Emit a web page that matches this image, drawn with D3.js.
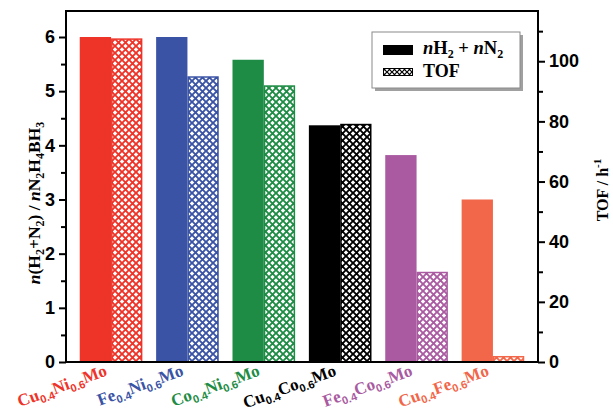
<!DOCTYPE html>
<html>
<head>
<meta charset="utf-8">
<script src="https://cdn.jsdelivr.net/npm/d3@7"></script>
<style>
  body { margin: 0; background: #fff; }
  .tick text { font-family: "Liberation Sans", Arial, sans-serif; font-weight: bold; font-size: 18px; }
  .title { font-family: "Liberation Serif", "Times New Roman", serif; font-weight: bold; }
</style>
</head>
<body>
<script>
// catalysts: [metal A, sub A, metal B, sub B, tail]
var catalysts = [
	["Cu", "0.4", "Ni", "0.6", "Mo"],
	["Fe", "0.4", "Ni", "0.6", "Mo"],
	["Co", "0.4", "Ni", "0.6", "Mo"],
	["Cu", "0.4", "Co", "0.6", "Mo"],
	["Fe", "0.4", "Co", "0.6", "Mo"],
	["Cu", "0.4", "Fe", "0.6", "Mo"]
];
var gasRatio = [6.0, 6.0, 5.58, 4.37, 3.82, 3.0];   // n(H2+N2)/nN2H4BH3
var tof = [107.6, 95, 92, 79.2, 30, 2];             // TOF / h^-1
var barColors = ["#ee3429", "#3a53a4", "#1e8c45", "#000000", "#a95aa1", "#f26649"];
var leftTicks = [0, 1, 2, 3, 4, 5, 6];
var rightTicks = [0, 20, 40, 60, 80, 100];

var margin = {top: 11, right: 75, bottom: 52, left: 66},
	fullWidth = 613, fullHeight = 414,
	width = fullWidth - margin.left - margin.right,
	height = fullHeight - margin.top - margin.bottom;

var svg = d3.select("body").append("svg")
	.attr("width", fullWidth)
	.attr("height", fullHeight);

var defs = svg.append("defs");
function hatch(id, color, size, sw) {
	var p = defs.append("pattern")
		.attr("id", id)
		.attr("patternUnits", "userSpaceOnUse")
		.attr("width", size).attr("height", size);
	p.append("rect").attr("width", size).attr("height", size).attr("fill", "#fff");
	p.append("path")
		.attr("d", "M-1,-1L" + (size + 1) + "," + (size + 1) + "M" + (size + 1) + ",-1L-1," + (size + 1))
		.attr("stroke", color).attr("stroke-width", sw).attr("fill", "none");
}
barColors.forEach(function(c, i) { hatch("hatch" + i, c, 7, 1.9); });
hatch("hatchLegend", "#000", 5, 1.2);

var g = svg.append("g")
	.attr("transform", "translate(" + margin.left + "," + margin.top + ")");

var x = d3.scaleBand().domain(d3.range(catalysts.length)).range([0, width]).padding(0.18);
var yLeft = d3.scaleLinear().domain([0, 6.48]).range([height, 0]);
var yRight = d3.scaleLinear().domain([0, 116.7]).range([height, 0]);
var half = x.bandwidth() / 2;

// solid bars
g.selectAll(".solid")
	.data(gasRatio)
	.enter().append("rect")
		.attr("class", "solid")
		.attr("x", function(d, i) { return x(i); })
		.attr("y", function(d) { return yLeft(d); })
		.attr("width", half)
		.attr("height", function(d) { return height - yLeft(d); })
		.style("fill", function(d, i) { return barColors[i]; });

// hatched TOF bars
g.selectAll(".hatched")
	.data(tof)
	.enter().append("rect")
		.attr("class", "hatched")
		.attr("x", function(d, i) { return x(i) + half + 0.75; })
		.attr("y", function(d) { return yRight(d) + 0.75; })
		.attr("width", half - 1.5)
		.attr("height", function(d) { return height - yRight(d) - 0.75; })
		.style("fill", function(d, i) { return "url(#hatch" + i + ")"; })
		.style("stroke", function(d, i) { return barColors[i]; })
		.style("stroke-width", 1.5);

// frame
g.append("rect")
	.attr("width", width).attr("height", height)
	.attr("fill", "none").attr("stroke", "#000").attr("stroke-width", 2);

// left axis
g.append("g")
	.call(d3.axisLeft(yLeft).tickValues(leftTicks).tickSize(7).tickPadding(4).tickFormat(d3.format("d")));
g.append("g")
	.call(d3.axisLeft(yLeft).tickValues(d3.range(0.5, 6.5, 1)).tickSize(5).tickFormat(""));

// right axis
g.append("g")
	.attr("transform", "translate(" + width + ",0)")
	.call(d3.axisRight(yRight).tickValues(rightTicks).tickSize(7).tickPadding(4).tickFormat(d3.format("d")));
g.append("g")
	.attr("transform", "translate(" + width + ",0)")
	.call(d3.axisRight(yRight).tickValues(d3.range(10, 120, 20)).tickSize(5).tickFormat(""));

g.selectAll(".domain").remove();
g.selectAll(".tick line").attr("stroke", "#000").attr("stroke-width", 2);
g.selectAll(".tick text").attr("fill", "#000");

// category labels, rotated (transform on a wrapping group)
var subFont = "'Liberation Sans', Arial, sans-serif";
var labelGroups = g.selectAll(".cat")
	.data(catalysts)
	.enter().append("g")
		.attr("class", "cat")
		.attr("transform", function(d, i) {
			return "translate(" + (x(i) + half - 3) + "," + (height + 13) + ")";
		});
labelGroups.each(function(d, i) {
	var t = d3.select(this).append("g")
		.attr("transform", "rotate(-20)")
		.append("text")
		.attr("class", "title")
		.attr("text-anchor", "end")
		.style("fill", barColors[i])
		.style("font-size", "17px");
	t.append("tspan").text(d[0]);
	t.append("tspan").attr("dy", 4).style("font-size", "11px").style("font-family", subFont).text(d[1]);
	t.append("tspan").attr("dy", -4).text(d[2]);
	t.append("tspan").attr("dy", 4).style("font-size", "11px").style("font-family", subFont).text(d[3]);
	t.append("tspan").attr("dy", -4).text(d[4]);
});

// mixed text with italic / sub / sup parts
function addParts(t, parts, small) {
	var shift = 0;
	parts.forEach(function(p) {
		var s = t.append("tspan").text(p.t);
		var want = p.sub ? 4 : (p.sup ? -7 : 0);
		if (want !== shift) { s.attr("dy", want - shift); shift = want; }
		if (p.sub || p.sup) s.style("font-size", small);
		if (p.it) s.style("font-style", "italic");
	});
}

// left axis title
var yTitle = svg.append("text")
	.attr("class", "title")
	.attr("text-anchor", "middle")
	.attr("transform", "translate(40,203) rotate(-90)")
	.style("font-size", "17.5px");
addParts(yTitle, [
	{t: "n", it: true}, {t: "(H"}, {t: "2", sub: true}, {t: "+N"}, {t: "2", sub: true},
	{t: ") / "}, {t: "n", it: true}, {t: "N"}, {t: "2", sub: true}, {t: "H"}, {t: "4", sub: true},
	{t: "BH"}, {t: "3", sub: true}
], "12px");

// right axis title
var rTitle = svg.append("text")
	.attr("class", "title")
	.attr("text-anchor", "middle")
	.attr("transform", "translate(608,190) rotate(-90)")
	.style("font-size", "16px");
addParts(rTitle, [{t: "TOF / h"}, {t: "-1", sup: true}], "11px");

// legend
var legend = svg.append("g").attr("transform", "translate(372,32)");
legend.append("rect").attr("x", 3).attr("y", 3).attr("width", 148).attr("height", 56).attr("fill", "#a0a0a0");
legend.append("rect").attr("width", 148).attr("height", 56)
	.attr("fill", "#fff").attr("stroke", "#8a8a8a").attr("stroke-width", 1);
legend.append("rect").attr("x", 11).attr("y", 13).attr("width", 30).attr("height", 10).attr("fill", "#000");
legend.append("rect").attr("x", 11.5).attr("y", 36.5).attr("width", 29).attr("height", 7)
	.attr("fill", "url(#hatchLegend)").attr("stroke", "#000").attr("stroke-width", 1);
var l1 = legend.append("text").attr("class", "title").attr("x", 51).attr("y", 22).style("font-size", "18.5px");
addParts(l1, [{t: "n", it: true}, {t: "H"}, {t: "2", sub: true}, {t: " + "}, {t: "n", it: true}, {t: "N"}, {t: "2", sub: true}], "12px");
legend.append("text").attr("class", "title").attr("x", 51).attr("y", 45).style("font-size", "18px").text("TOF");
</script>
</body>
</html>
